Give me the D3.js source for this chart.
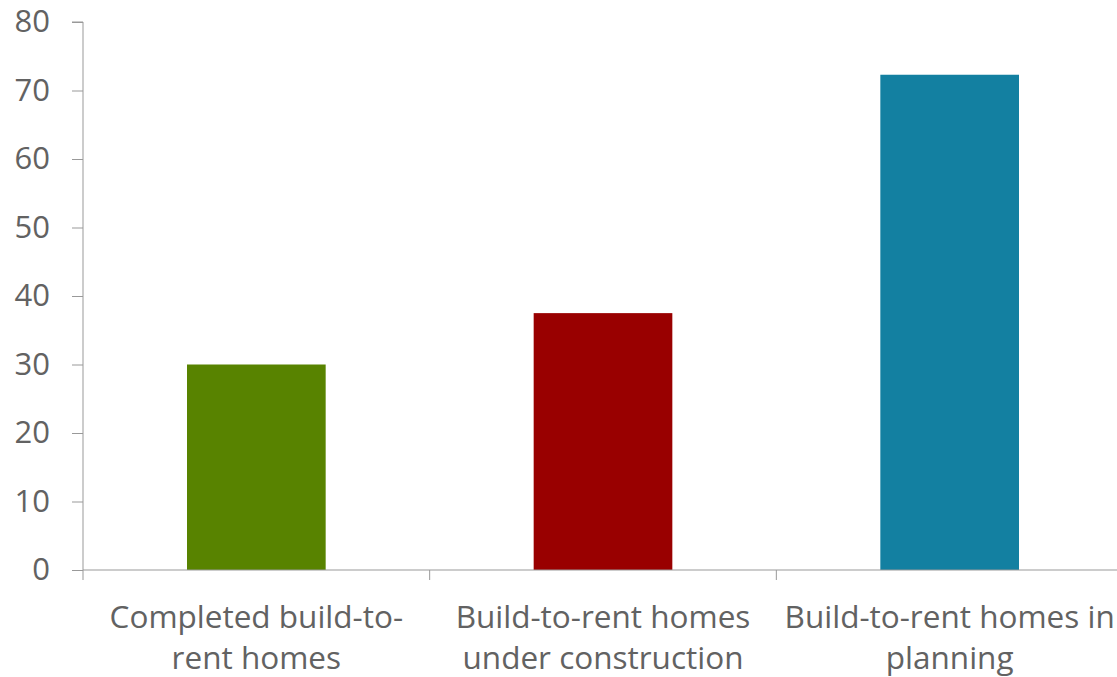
<!DOCTYPE html>
<meta charset="utf-8">
<style>
  body { margin: 0; background: #fff; }
  text { font-family: "Open Sans", "Noto Sans", sans-serif; fill: #626262; }
  .axis path, .axis line { stroke: #999; }
</style>
<body>
<div id="chart"></div>
<script src="https://d3js.org/d3.v7.min.js"></script>
<script>
// chart data
var categories = [
  ["Completed build-to-", "rent homes"],
  ["Build-to-rent homes", "under construction"],
  ["Build-to-rent homes in", "planning"]
];
var values = [30, 37.5, 72.3];
var colors = ["#588300", "#990000", "#1380a1"];
var yTicks = [0, 10, 20, 30, 40, 50, 60, 70, 80];

var width = 1117,
    height = 677;

var svg = d3.select("#chart").append("svg")
    .attr("width", width)
    .attr("height", height);

var x = d3.scaleBand()
    .domain(d3.range(categories.length))
    .range([83, 1123]);

var y = d3.scaleLinear()
    .domain([0, 80])
    .range([570, 22]);

// y axis
var yAxis = svg.append("g")
    .attr("class", "axis")
    .attr("transform", "translate(83,0)")
    .call(d3.axisLeft(y).tickValues(yTicks).tickSize(11).tickPadding(22));
yAxis.select(".domain").attr("d", "M0," + y(0) + "V" + y(80) + "H-11");
yAxis.selectAll("text").style("font-size", "31px");

// bars
svg.append("g")
  .selectAll("rect")
    .data(values)
  .enter().append("rect")
    .attr("x", function(d, i) { return x(i) + x.bandwidth() * 0.3; })
    .attr("width", x.bandwidth() * 0.4)
    .attr("y", function(d) { return y(d); })
    .attr("height", function(d) { return y(0) - y(d); })
    .attr("fill", function(d, i) { return colors[i]; });

// x axis: baseline plus ticks at band edges
var xg = svg.append("g").attr("class", "axis");
xg.append("line")
    .attr("x1", 83).attr("x2", width)
    .attr("y1", y(0)).attr("y2", y(0));
xg.selectAll("line.tick")
    .data(d3.range(categories.length))
  .enter().append("line")
    .attr("class", "tick")
    .attr("x1", function(i) { return x(i); })
    .attr("x2", function(i) { return x(i); })
    .attr("y1", y(0)).attr("y2", y(0) + 10);

var labels = svg.append("g")
  .selectAll("text")
    .data(categories)
  .enter().append("text")
    .attr("text-anchor", "middle")
    .attr("x", function(d, i) { return x(i) + x.bandwidth() / 2; })
    .attr("y", 628)
    .style("font-size", "31.5px");
labels.selectAll("tspan")
    .data(function(d) { return d; })
  .enter().append("tspan")
    .attr("x", function() { return this.parentNode.getAttribute("x"); })
    .attr("dy", function(d, i) { return i ? 41 : 0; })
    .text(function(d) { return d; });
</script>
</body>
